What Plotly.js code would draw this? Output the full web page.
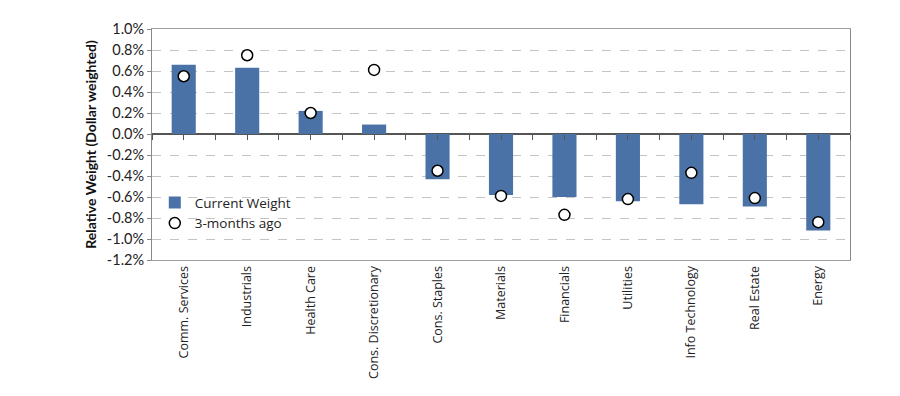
<!DOCTYPE html>
<html><head><meta charset="utf-8">
<script src="https://cdn.plot.ly/plotly-3.0.1.min.js"></script>
<style>body{margin:0;background:#fff}#c{width:900px;height:396px}</style>
</head><body><div id="c"></div>
<script>
const categories = ["Comm. Services","Industrials","Health Care","Cons. Discretionary","Cons. Staples","Materials","Financials","Utilities","Info Technology","Real Estate","Energy"];
const currentWeight = [0.66, 0.63, 0.22, 0.09, -0.43, -0.58, -0.60, -0.64, -0.67, -0.69, -0.92];
const threeMonthsAgo = [0.55, 0.75, 0.20, 0.61, -0.35, -0.59, -0.77, -0.62, -0.37, -0.61, -0.84];
const yTickVals = [-1.2,-1.0,-0.8,-0.6,-0.4,-0.2,0,0.2,0.4,0.6,0.8,1.0];
const yTickText = yTickVals.map(v => v.toFixed(1) + '%');

const traces = [
  {type:'bar', x:categories, y:currentWeight, name:'Current Weight', width:0.38,
   marker:{color:'#4A72A6'}, hoverinfo:'skip'},
  {type:'scatter', mode:'markers', x:categories, y:threeMonthsAgo, name:'3-months ago',
   marker:{symbol:'circle', size:11, color:'#ffffff', line:{color:'#000000', width:1.5}}, hoverinfo:'skip'},
  {type:'scatter', mode:'markers', x:[0], y:[0], xaxis:'x2', showlegend:false, hoverinfo:'skip',
   marker:{opacity:0, size:1}}
];

const layout = {
  width:900, height:396,
  margin:{l:152, r:50, t:29, b:136},
  paper_bgcolor:'#ffffff', plot_bgcolor:'#ffffff',
  showlegend:true,
  legend:{x:0.004, y:0.315, xanchor:'left', yanchor:'top', bgcolor:'rgba(0,0,0,0)',
          font:{family:'Open Sans', size:13.5, color:'#222'}, tracegroupgap:0, itemwidth:30},
  xaxis:{type:'category', range:[-0.5,10.5], tickangle:-90, ticks:'', showgrid:false, zeroline:false,
         showline:true, mirror:true, linecolor:'#a0a0a0', linewidth:1,
         tickfont:{family:'Open Sans', size:12.5, color:'#222'}},
  xaxis2:{overlaying:'x', anchor:'free', position:1.2/2.2, range:[-0.5,10.5], tick0:-0.5, dtick:0.5,
          ticks:'outside', ticklen:5, tickcolor:'#555', tickwidth:1, showticklabels:false,
          showgrid:false, zeroline:false, showline:false},
  yaxis:{range:[-1.2,1.0], tickmode:'array', tickvals:yTickVals, ticktext:yTickText,
         showgrid:true, gridcolor:'#c4c4c4', griddash:'dash', gridwidth:1,
         zeroline:true, zerolinecolor:'#555', zerolinewidth:1.5,
         showline:true, mirror:true, linecolor:'#888', linewidth:1,
         ticks:'outside', ticklen:4, tickcolor:'#888',
         tickfont:{family:'Lato', size:14.5, color:'#222'},
         title:{text:'<b>Relative Weight (Dollar weighted)</b>', font:{family:'Lato', size:14, color:'#111'}, standoff:6}}
};
Plotly.newPlot('c', traces, layout, {staticPlot:true, displayModeBar:false});
</script></body></html>
